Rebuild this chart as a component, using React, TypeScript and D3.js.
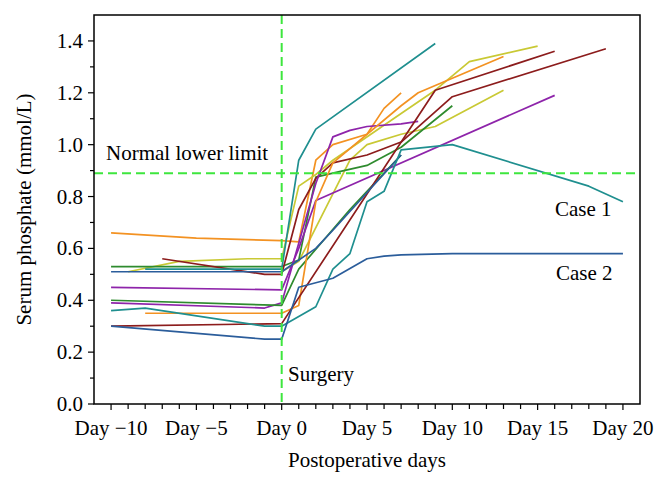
import React from 'react'
import * as d3 from 'd3'

// [day, serum phosphate mmol/L]
const tealHigh = [[-8, 0.52], [0, 0.52], [1, 0.94], [2, 1.06], [9, 1.39]]
const case1 = [[-10, 0.36], [-8, 0.37], [-1, 0.3], [0, 0.3], [2, 0.375], [3, 0.52], [4, 0.58], [5, 0.78], [6, 0.82], [7, 0.98], [10, 1.0], [18, 0.84], [20, 0.78]]
const blueMid = [[-10, 0.51], [0, 0.51], [2, 0.6], [3, 0.67], [7, 0.96]]
const case2 = [[-10, 0.3], [-1, 0.25], [0, 0.25], [1, 0.45], [3, 0.485], [5, 0.56], [6, 0.57], [7, 0.575], [10, 0.58], [20, 0.58]]
const yellowA = [[-9, 0.51], [-6, 0.55], [-2, 0.56], [0, 0.56], [1, 0.84], [2, 0.885], [3, 0.94], [7, 1.12], [9, 1.21], [11, 1.32], [15, 1.38]]
const yellowB = [[0, 0.51], [1, 0.55], [4, 0.94], [5, 1.0], [7, 1.04], [9, 1.07], [13, 1.21]]
const orangeA = [[-10, 0.66], [-5, 0.64], [0, 0.63], [1, 0.625], [2, 0.94], [3, 1.0], [5, 1.04], [6, 1.14], [7, 1.2]]
const orangeB = [[-8, 0.35], [0, 0.35], [1, 0.38], [2, 0.78], [3, 0.93], [7, 1.15], [8, 1.2], [13, 1.34]]
const maroonA = [[-10, 0.3], [0, 0.31], [9, 1.21], [16, 1.36]]
const maroonB = [[-7, 0.56], [-1, 0.5], [0, 0.5], [1, 0.75], [2, 0.87], [3, 0.93], [5, 0.96], [7, 1.01], [10, 1.185], [19, 1.37]]
const greenA = [[-10, 0.53], [0, 0.53], [1, 0.555], [2, 0.875], [3, 0.89], [5, 0.92], [7, 0.99], [10, 1.15]]
const greenB = [[-10, 0.4], [0, 0.38], [1, 0.52], [4, 0.75], [6, 0.89], [7, 0.96]]
const purpleA = [[-10, 0.45], [0, 0.44], [1, 0.6], [2, 0.785], [16, 1.19]]
const purpleB = [[-10, 0.39], [-1, 0.37], [0, 0.39], [1, 0.62], [2, 0.85], [3, 1.03], [4, 1.055], [5, 1.07], [7, 1.08], [8, 1.09]]

const teal = '#1f8f8f'
const blue = '#2b5d9b'
const yellow = '#c9c934'
const orange = '#f39222'
const maroon = '#8c1c1c'
const green = '#2e8b2e'
const purple = '#8e24aa'

const series: [number[][], string][] = [
	[orangeA, orange],
	[yellowA, yellow],
	[yellowB, yellow],
	[greenA, green],
	[maroonB, maroon],
	[purpleA, purple],
	[purpleB, purple],
	[greenB, green],
	[orangeB, orange],
	[maroonA, maroon],
	[blueMid, blue],
	[tealHigh, teal],
	[case1, teal],
	[case2, blue],
]

const xTicks = [-10, -5, 0, 5, 10, 15, 20]
const yTicks = [0, 0.2, 0.4, 0.6, 0.8, 1.0, 1.2, 1.4]
const normalLimit = 0.89
const surgeryDay = 0

const margin = { top: 15, right: 26, bottom: 82, left: 94 }
const width = 666
const height = 486
const font = '"Liberation Serif", "Times New Roman", serif'
const dashGreen = '#3ee63e'
const fs = 21

const App = () => {
	const x = d3.scaleLinear().domain([-11, 21]).range([margin.left, width - margin.right])
	const y = d3.scaleLinear().domain([0, 1.5]).range([height - margin.bottom, margin.top])
	const line = d3
		.line<number[]>()
		.x((d) => x(d[0]))
		.y((d) => y(d[1]))

	const x0 = x.range()[0],
		x1 = x.range()[1]
	const y0 = y.range()[0],
		y1 = y.range()[1]
	const minorX = d3.range(-10, 21, 1)
	const minorY = d3.range(1, 15, 2).map((v) => v / 10)

	return (
		<svg width={width} height={height} style={{ position: 'absolute', left: 0, top: 0 }} fontFamily={font}>
			<rect x={0} y={0} width={width} height={height} fill="#fff" />
			{series.map(([pts, c], i) => (
				<path key={i} d={line(pts) || ''} fill="none" stroke={c} strokeWidth={1.7} strokeLinejoin="round" />
			))}
			{/* reference lines */}
			<line x1={x0} x2={x1} y1={y(normalLimit)} y2={y(normalLimit)} stroke={dashGreen} strokeWidth={2} strokeDasharray="9,5" />
			<line x1={x(surgeryDay)} x2={x(surgeryDay)} y1={y1} y2={y0} stroke={dashGreen} strokeWidth={2} strokeDasharray="9,5" />
			{/* frame */}
			<rect x={x0} y={y1} width={x1 - x0} height={y0 - y1} fill="none" stroke="#000" strokeWidth={1.5} />
			{minorX.map((d) => (
				<line key={'mx' + d} x1={x(d)} x2={x(d)} y1={y0} y2={y0 + (d % 5 === 0 ? 6 : 5)} stroke="#000" strokeWidth={1.2} />
			))}
			{xTicks.map((d) => (
				<text key={'xt' + d} x={x(d)} y={435} textAnchor="middle" fontSize={fs}>
					{d < 0 ? 'Day \u2212' + Math.abs(d) : 'Day ' + d}
				</text>
			))}
			{yTicks.map((v) => (
				<g key={'yt' + v}>
					<line x1={x0 - 6} x2={x0} y1={y(v)} y2={y(v)} stroke="#000" strokeWidth={1.2} />
					<text x={83} y={y(v) + 7} textAnchor="end" fontSize={fs}>
						{v.toFixed(1)}
					</text>
				</g>
			))}
			{minorY.map((v) => (
				<line key={'my' + v} x1={x0 - 4} x2={x0} y1={y(v)} y2={y(v)} stroke="#000" strokeWidth={1.2} />
			))}
			<text x={(x0 + x1) / 2} y={467} textAnchor="middle" fontSize={fs}>
				Postoperative days
			</text>
			<text transform={`translate(31,${(y0 + y1) / 2}) rotate(-90)`} textAnchor="middle" fontSize={fs}>
				Serum phosphate (mmol/L)
			</text>
			<text x={106} y={160} fontSize={fs}>
				Normal lower limit
			</text>
			<text x={288} y={381} fontSize={fs}>
				Surgery
			</text>
			<text x={555} y={216} fontSize={fs}>
				Case 1
			</text>
			<text x={556} y={280} fontSize={fs}>
				Case 2
			</text>
		</svg>
	)
}

export default App
